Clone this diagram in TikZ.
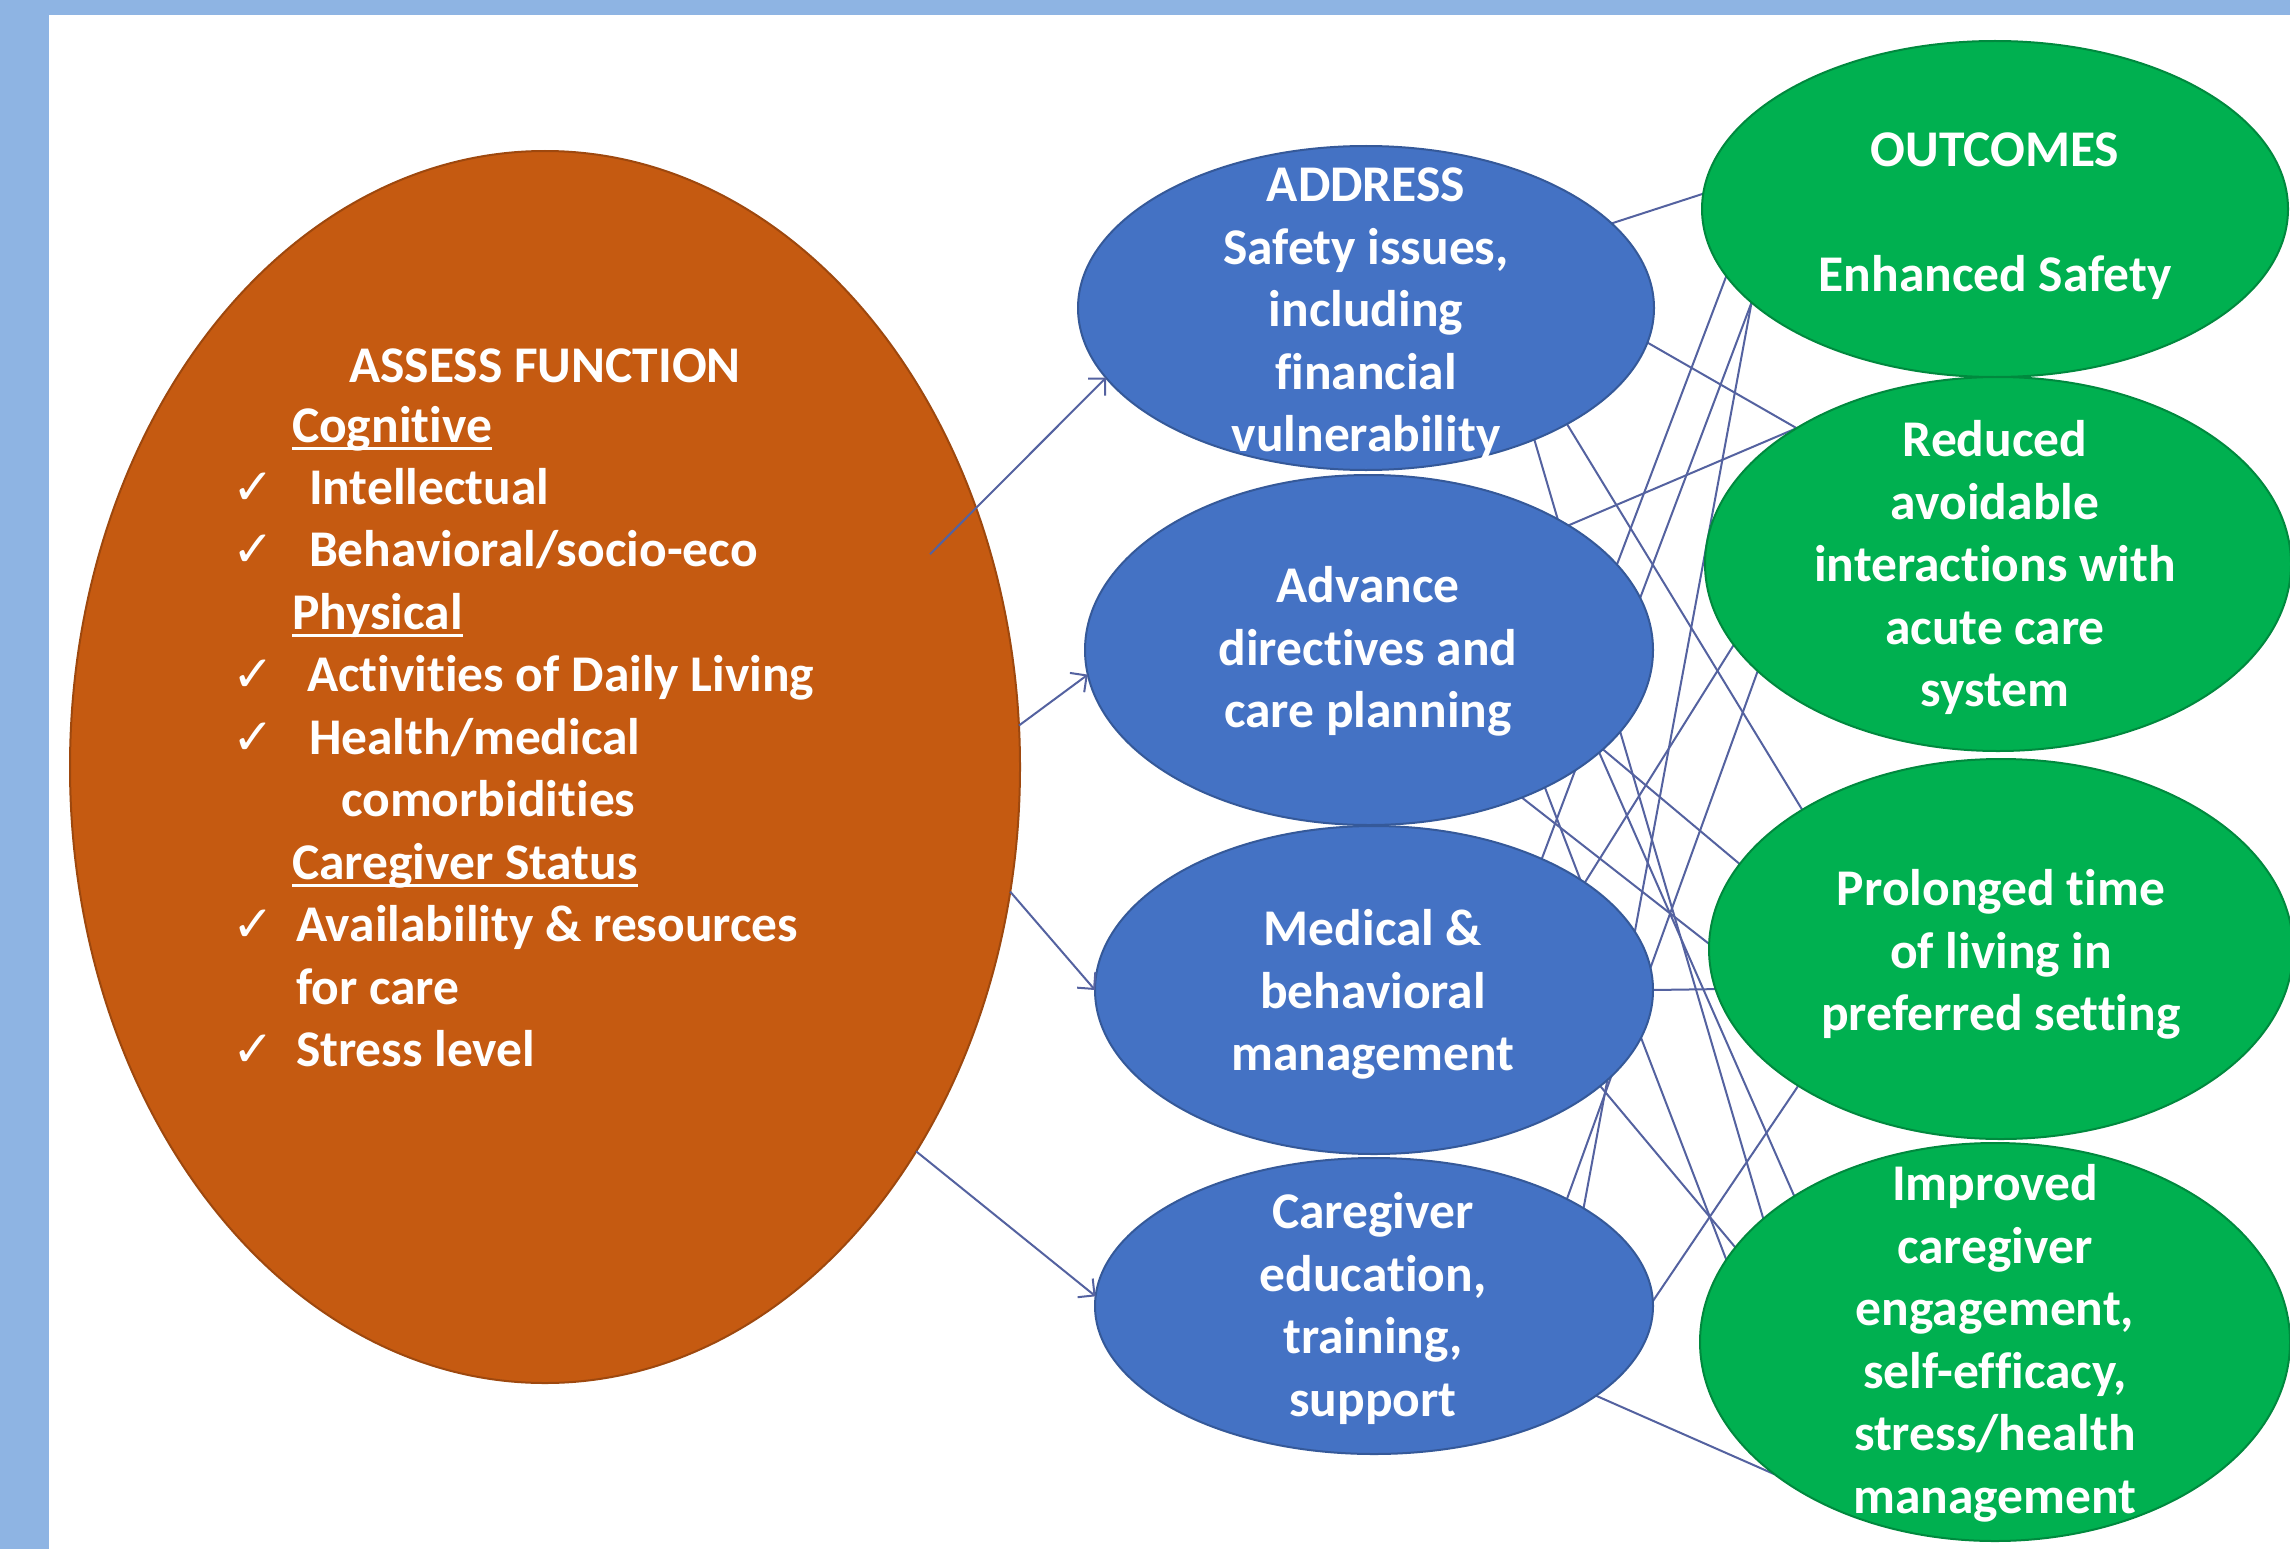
\documentclass[tikz,border=0pt]{standalone}
\usepackage{fontspec}
\setmainfont{Carlito}[Ligatures=NoCommon]
\newfontfamily\symfont{DejaVu Sans}
\usetikzlibrary{shapes.geometric,arrows.meta}

\definecolor{bandblue}{RGB}{142,180,227}
\definecolor{rust}{RGB}{197,90,17}
\definecolor{royal}{RGB}{68,114,196}
\definecolor{leaf}{RGB}{0,176,80}
\definecolor{wirec}{RGB}{84,98,160}

\newcommand\saysize{\bfseries\fontsize{51.5}{62.5}\selectfont}
\newcommand\ulword[1]{\setbox0=\hbox{#1}\rlap{\rule[-0.15em]{\wd0}{0.06em}}\box0}
\newcommand\tickmark{{\symfont\fontsize{50}{50}\selectfont ✓}}
\newcommand\lines[1]{\begin{tabular}{@{}c@{}}#1\end{tabular}}

\pgfdeclarelayer{paper}
\pgfdeclarelayer{wires}
\pgfsetlayers{paper,wires,main}

\begin{document}
\begin{tikzpicture}[x=1pt,y=-1pt,
  blob/.style={ellipse, inner sep=0pt, outer sep=0pt, line width=2pt},
  bluebox/.style={blob, fill=royal, draw=royal!78!black},
  greenbox/.style={blob, fill=leaf, draw=leaf!78!black},
  wire/.style={draw=wirec, line width=2pt},
  feed/.style={draw=wirec, line width=2pt, -{Straight Barb[length=12pt,width=24pt,line width=2pt]}},
  say/.style={text=white, font=\saysize, inner sep=0pt, outer sep=0pt},
  item/.style={say, anchor=base west},
  tick/.style={text=white, inner sep=0pt, anchor=base west}]

\useasboundingbox (0,0) rectangle (2290,1549);

% page frame
\begin{pgfonlayer}{paper}
  \fill[bandblue] (0,0) rectangle (2290,1549);
  \fill[white] (49,15) rectangle (2290,1549);
\end{pgfonlayer}

% shapes
\node[blob, fill=rust, draw=rust!80!black, minimum width=950pt, minimum height=1232pt] (o) at (545,767) {};

\node[bluebox, minimum width=576pt, minimum height=324pt] (b1) at (1366,308) {};
\node[bluebox, minimum width=568pt, minimum height=350pt] (b2) at (1369,650) {};
\node[bluebox, minimum width=558pt, minimum height=328pt] (b3) at (1374,990) {};
\node[bluebox, minimum width=558pt, minimum height=296pt] (b4) at (1374,1306) {};

\node[greenbox, minimum width=586pt, minimum height=336pt] (g1) at (1995,209) {};
\node[greenbox, minimum width=586pt, minimum height=374pt] (g2) at (1998,564) {};
\node[greenbox, minimum width=584pt, minimum height=380pt] (g3) at (2001,949) {};
\node[greenbox, minimum width=590pt, minimum height=398pt] (g4) at (1995,1342) {};

% links between interventions and outcomes (kept under the ellipses)
\begin{pgfonlayer}{wires}
  \draw[wire] (b1.19) -- (g1.177.8);
  \draw[wire] (b1.-7.4) -- (g2.146.9);
  \draw[wire] (b1.-30.3) -- (g3.145.5);
  \draw[wire] (b1.-38.4) -- (g4.152.3);
  \draw[wire] (b2.19) -- (g1.194.4);
  \draw[wire] (b2.32.9) -- (g2.146.9);
  \draw[wire] (b2.-23.8) -- (g3.162.5);
  \draw[wire] (b2.-24.6) -- (g4.144.4);
  \draw[wire] (b2.-44.4) -- (g3.179.8);
  \draw[wire] (b2.-38.5) -- (g4.163.9);
  \draw[wire] (b3.38.8) -- (g1.201.4);
  \draw[wire] (b3.27) -- (g2.197.6);
  \draw[wire] (b3.0) -- (g3.188.2);
  \draw[wire] (b3.-23.8) -- (g4.160.6);
  \draw[wire] (b4.25.1) -- (g1.201.2);
  \draw[wire] (b4.29.4) -- (g2.204.7);
  \draw[wire] (b4.1.8) -- (g3.214.4);
  \draw[wire] (b4.-22.6) -- (g4.211.8);
\end{pgfonlayer}

% arrows from the assessment to the interventions
\draw[feed, shorten <=-65pt] (o.31.7) -- (b1.195);
\draw[feed] (o.5.7) -- (b2.185.1);
\draw[feed] (o.-15.8) -- (b3.180);
\draw[feed] (o.-46.7) -- (b4.178.8);

% assessment text
\node[say, anchor=base] (ttl) at (545,382) {ASSESS FUNCTION};
\node[item] (t0) at (292,442) {\ulword{Cognitive}};
\node[tick] (c1) at (232,504) {\tickmark};
\node[item] (t1) at (309,504) {Intellectual};
\node[tick] (c2) at (232,566.5) {\tickmark};
\node[item] (t2) at (309,566.5) {Behavioral/socio-eco};
\node[item] (t3) at (292,629) {\ulword{Physical}};
\node[tick] (c4) at (232,691.5) {\tickmark};
\node[item] (t4) at (307,691.5) {Activities of Daily Living};
\node[tick] (c5) at (232,754) {\tickmark};
\node[item] (t5) at (309,754) {Health/medical};
\node[item] (t6) at (341,816.5) {comorbidities};
\node[item] (t7) at (292,879) {\ulword{Caregiver Status}};
\node[tick] (c8) at (232,941.5) {\tickmark};
\node[item] (t8) at (296,941.5) {Availability \& resources};
\node[item] (t9) at (296,1004) {for care};
\node[tick] (c10) at (232,1066.5) {\tickmark};
\node[item] (t10) at (296,1066.5) {Stress level};

% intervention text
\node[say] (b1t) at (1366,314) {\lines{ADDRESS\\Safety issues,\\including\\financial\\vulnerability}};
\node[say] (b2t) at (1368,652.5) {\lines{Advance\\directives and\\care planning}};
\node[say] (b3t) at (1373,995.5) {\lines{Medical \&\\behavioral\\management}};
\node[say] (b4t) at (1373,1309.75) {\lines{Caregiver\\education,\\training,\\support}};

% outcome text
\node[say] (g1t) at (1995,216.5) {\lines{OUTCOMES\\[62.5pt]Enhanced Safety}};
\node[say] (g2t) at (1995,569) {\lines{Reduced\\avoidable\\interactions with\\acute care\\system}};
\node[say] (g3t) at (2001,955.5) {\lines{Prolonged time\\of living in\\preferred setting}};
\node[say] (g4t) at (1995,1344.25) {\lines{Improved\\caregiver\\engagement,\\self-efficacy,\\stress/health\\management}};
\end{tikzpicture}
\end{document}
